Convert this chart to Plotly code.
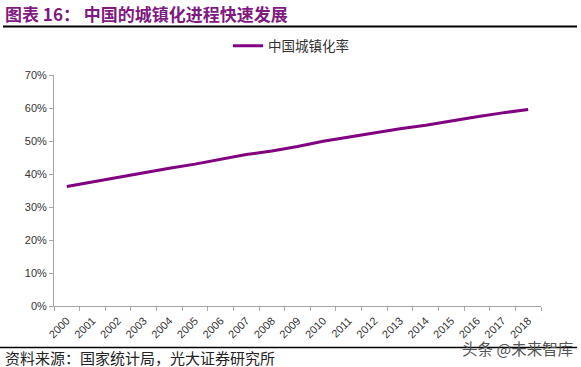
import plotly.graph_objects as go

years = [str(y) for y in range(2000, 2019)]
urban_rate = [0.3622, 0.3766, 0.3909, 0.4053, 0.4176, 0.4299, 0.4434, 0.4589, 0.4699,
              0.4834, 0.4995, 0.5127, 0.5257, 0.5373, 0.5477, 0.5610, 0.5735, 0.5852, 0.5958]
series_name = "中国城镇化率"
title_text = "图表 16： 中国的城镇化进程快速发展"
source_text = "资料来源：国家统计局，光大证券研究所"
watermark_text = "头条 @未来智库"

W, H = 581, 367
L, R, T, B = 54, 40, 75, 61
pw, ph = W - L - R, H - T - B

def px(x):
    return (x - L) / pw

def py(y):
    return (H - B - y) / ph

CJK = "Noto Sans CJK SC"

fig = go.Figure()
fig.add_trace(go.Scatter(
    x=years, y=urban_rate, mode="lines", name=series_name,
    line=dict(color="#800080", width=3),
))

fig.update_layout(
    width=W, height=H,
    margin=dict(l=L, r=R, t=T, b=B, autoexpand=False),
    paper_bgcolor="white", plot_bgcolor="white",
    showlegend=True,
    legend=dict(orientation="h", x=px(228), xanchor="left", y=py(46), yanchor="middle",
                font=dict(family=CJK, size=13.5, color="#333333"),
                bgcolor="rgba(0,0,0,0)", itemwidth=30),
    xaxis=dict(type="category", range=[-0.5, 18.5], tickson="boundaries",
               ticks="outside", ticklen=4, tickcolor="#a6a6a6", automargin=False,
               showline=True, linecolor="#a6a6a6", linewidth=1,
               showgrid=False, zeroline=False, tickangle=-45, ticklabelstandoff=3,
               tickfont=dict(family="Arial", size=11, color="#333333")),
    yaxis=dict(range=[0, 0.7], dtick=0.1, tickformat=".0%", automargin=False,
               ticks="outside", ticklen=4, tickcolor="#a6a6a6",
               showline=True, linecolor="#a6a6a6", linewidth=1,
               showgrid=False, zeroline=False,
               tickfont=dict(family="Arial", size=11, color="#333333")),
    shapes=[
        dict(type="line", xref="paper", yref="paper", x0=px(3), x1=px(577),
             y0=py(26.5), y1=py(26.5), line=dict(color="black", width=2)),
        dict(type="line", xref="paper", yref="paper", x0=px(0), x1=px(577),
             y0=py(347.5), y1=py(347.5), line=dict(color="black", width=1.5)),
    ],
    annotations=[
        dict(text="<b>" + title_text + "</b>", xref="paper", yref="paper",
             x=px(3), y=py(13), xanchor="left", yanchor="middle", showarrow=False,
             font=dict(family=CJK, size=17, color="#7f1a80")),
        dict(text=source_text, xref="paper", yref="paper",
             x=px(3), y=py(357), xanchor="left", yanchor="middle", showarrow=False,
             font=dict(family=CJK, size=15, color="#222222")),
        dict(text=watermark_text, xref="paper", yref="paper",
             x=px(575), y=py(348), xanchor="right", yanchor="middle", showarrow=False,
             bgcolor="rgba(255,255,255,0)",
             font=dict(family=CJK, size=15.5, color="#555555")),
    ],
)

fig.write_html("out.html", config={"displayModeBar": False},
               post_script="document.body.style.margin='0px';document.body.style.overflow='hidden';")
